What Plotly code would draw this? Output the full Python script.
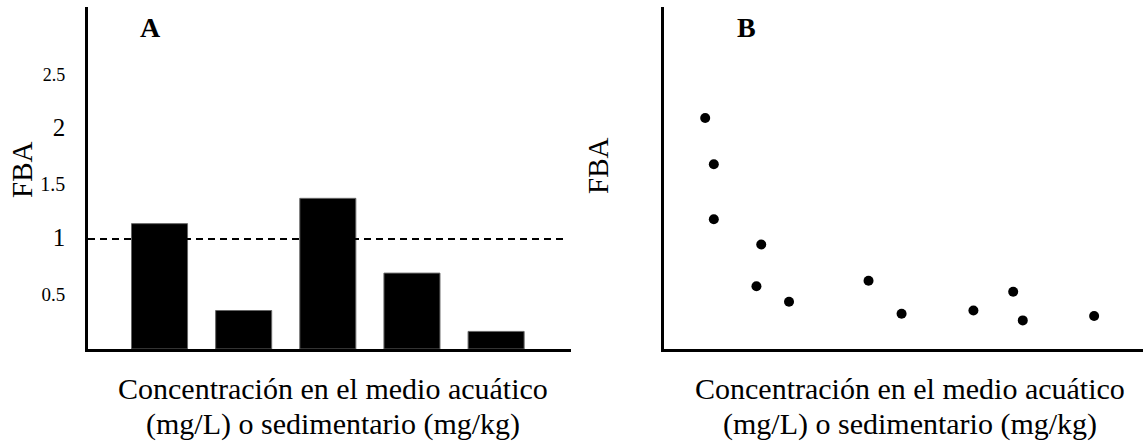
import plotly.graph_objects as go

# ---------------- data ----------------
bar_categories = ["c1", "c2", "c3", "c4", "c5"]
bar_values = [1.14, 0.35, 1.37, 0.69, 0.16]
threshold = 1.0

scatter_x = [8.6, 10.4, 10.4, 20.3, 19.3, 26.1, 42.7, 49.6, 64.6, 72.9, 74.9, 89.8]
scatter_y = [2.10, 1.68, 1.18, 0.95, 0.57, 0.43, 0.62, 0.32, 0.35, 0.52, 0.26, 0.30]

ytick_vals = [0.5, 1, 1.5, 2, 2.5]
ytick_text = ["0.5", "1", "1.5", "2", "2.5"]
ytick_sizes = [19, 25, 20, 25, 18]

x_title_line1 = "Concentración en el medio acuático"
x_title_line2 = "(mg/L) o sedimentario (mg/kg)"
y_title = "FBA"
panel_labels = ["A", "B"]

# ---------------- figure ----------------
W, H = 1143, 446
FONT = "Liberation Serif, Times New Roman, serif"

def px_x(p):
    return p / W

def px_y(p):
    return 1 - p / H

fig = go.Figure()

fig.add_trace(go.Bar(
    x=bar_categories, y=bar_values,
    marker=dict(color="black", line=dict(color="#666666", width=1)),
    xaxis="x", yaxis="y", showlegend=False, hoverinfo="skip",
))

fig.add_trace(go.Scatter(
    x=scatter_x, y=scatter_y, mode="markers",
    marker=dict(color="black", size=10),
    xaxis="x2", yaxis="y2", showlegend=False, hoverinfo="skip",
))

y_range = [0, 3.11]
axis_common = dict(showline=True, linecolor="black", linewidth=2.5,
                   showgrid=False, zeroline=False, ticks="", fixedrange=True)

fig.update_layout(
    width=W, height=H,
    margin=dict(l=0, r=0, t=0, b=0),
    paper_bgcolor="white", plot_bgcolor="white",
    font=dict(family=FONT, color="black"),
    bargap=0.334,
    xaxis=dict(domain=[px_x(88), px_x(571)], range=[-0.85, 4.89],
               showticklabels=False, anchor="y", **axis_common),
    yaxis=dict(domain=[px_y(349), px_y(7)], range=y_range, anchor="x",
               tickvals=ytick_vals,
               ticktext=[f'<span style="font-size:{s}px">{t}</span>'
                         for t, s in zip(ytick_text, ytick_sizes)],
               tickfont=dict(family=FONT, size=20, color="black"),
               ticklabelstandoff=16, **axis_common),
    xaxis2=dict(domain=[px_x(664), 1.0], range=[0, 100],
                showticklabels=False, anchor="y2", **axis_common),
    yaxis2=dict(domain=[px_y(349), px_y(7)], range=y_range, anchor="x2",
                showticklabels=False, **axis_common),
)

# dashed threshold line in panel A
fig.add_shape(type="line", xref="x domain", yref="y",
              x0=0, x1=0.985, y0=threshold, y1=threshold,
              line=dict(color="black", width=2, dash="7px,5px"))

annots = []
# panel letters
annots.append(dict(x=px_x(150), y=px_y(28), text=f"<b>{panel_labels[0]}</b>"))
annots.append(dict(x=px_x(746), y=px_y(28), text=f"<b>{panel_labels[1]}</b>"))
for a in annots:
    a.update(xref="paper", yref="paper", showarrow=False,
             font=dict(family=FONT, size=28, color="black"),
             xanchor="center", yanchor="middle")

# y titles
for xc, yc in [(22, 170), (598, 166)]:
    annots.append(dict(x=px_x(xc), y=px_y(yc), xref="paper", yref="paper",
                       text=y_title, textangle=-90, showarrow=False,
                       font=dict(family=FONT, size=29, color="black"),
                       xanchor="center", yanchor="middle"))

# x titles
for xc in [333, 910]:
    annots.append(dict(x=px_x(xc), y=px_y(388), xref="paper", yref="paper",
                       text=x_title_line1, showarrow=False,
                       font=dict(family=FONT, size=30, color="black"),
                       xanchor="center", yanchor="middle"))
    annots.append(dict(x=px_x(xc), y=px_y(424), xref="paper", yref="paper",
                       text=x_title_line2, showarrow=False,
                       font=dict(family=FONT, size=30, color="black"),
                       xanchor="center", yanchor="middle"))

fig.update_layout(annotations=annots)

fig.write_html("out.html", config={"displayModeBar": False})
